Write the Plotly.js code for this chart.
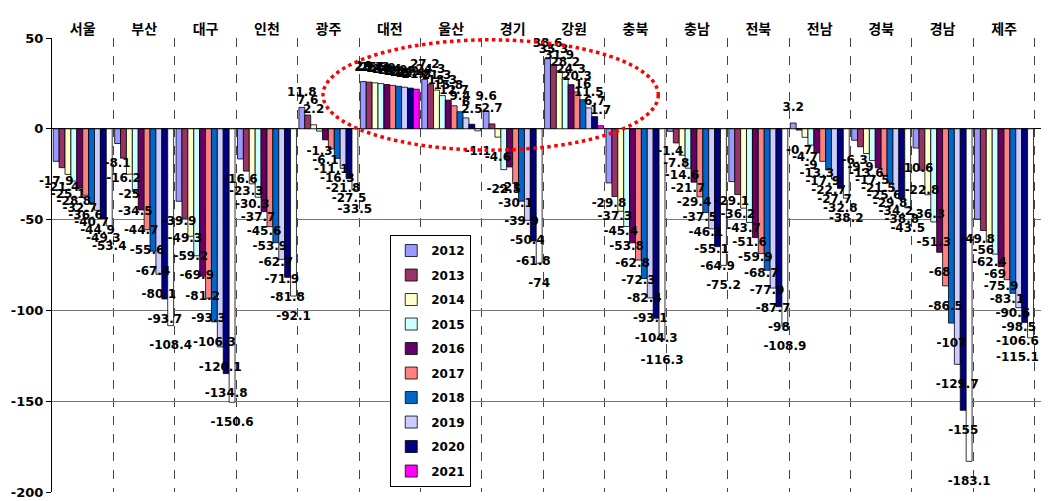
<!DOCTYPE html>
<html>
<head>
<meta charset="utf-8">
<script src="https://cdn.plot.ly/plotly-3.0.1.min.js"></script>
<style>html,body{margin:0;padding:0;background:#fff;}#chart{width:1050px;height:501px;}</style>
</head>
<body>
<div id="chart"></div>
<script>
const regions = ["서울","부산","대구","인천","광주","대전","울산","경기","강원","충북","충남","전북","전남","경북","경남","제주"];
const years = ["2012","2013","2014","2015","2016","2017","2018","2019","2020","2021"];
const colors = ["#9999FF","#993366","#FFFFCC","#CCFFFF","#660066","#FF8080","#0066CC","#CCCCFF","#000080","#FF00FF"];

// values per region, 2012..2021
const seoul    = [-17.9,-21.4,-25.1,-28.8,-32.7,-36.6,-40.7,-44.9,-49.3,-53.4];
const busan    = [-8.1,-16.2,-25,-34.5,-44.7,-55.6,-67.4,-80.1,-93.7,-108.4];
const daegu    = [-39.9,-49.3,-59.2,-69.9,-81.2,-93.3,-106.3,-120.1,-134.8,-150.6];
const incheon  = [-16.6,-23.3,-30.3,-37.7,-45.6,-53.9,-62.7,-71.9,-81.8,-92.1];
const gwangju  = [11.8,7.6,2.2,-1.3,-6.1,-11.1,-16.3,-21.8,-27.5,-33.5];
const daejeon  = [26.0,25.7,25.3,24.9,24.4,23.9,23.4,22.9,22.4,21.8];
const ulsan    = [27.2,24.3,21.3,18.3,15.8,12.7,9.4,6,2.5,-1.1];
const gyeonggi = [9.6,2.7,-4.6,-22.5,-21,-30.1,-39.9,-50.4,-61.8,-74];
const gangwon  = [38.6,35.3,31.9,28.2,24.3,20.3,16,11.5,6.7,1.7];
const chungbuk = [-29.8,-37.3,-45.4,-53.8,-62.8,-72.3,-82.4,-93.1,-104.3,-116.3];
const chungnam = [-1.4,-7.8,-14.6,-21.7,-29.4,-37.5,-46.1,-55.1,-64.9,-75.2];
const jeonbuk  = [-29.1,-36.2,-43.7,-51.6,-59.9,-68.7,-77.9,-87.7,-98,-108.9];
const jeonnam  = [3.2,-0.7,-4.7,-9,-13.3,-17.9,-22.7,-27.7,-32.8,-38.2];
const gyeongbuk= [-6.3,-9.9,-13.6,-17.5,-21.5,-25.6,-29.8,-34.2,-38.8,-43.5];
const gyeongnam= [-10.6,-22.8,-36.3,-51.3,-68,-86.5,-107,-129.7,-155,-183.1];
const jeju     = [-49.8,-56,-62.4,-69,-75.9,-83.1,-90.6,-98.5,-106.6,-115.1];

const yTickVals = [50,0,-50,-100,-150,-200];
const yTickText = ["50","0","-50","-100","-150","-200"];

const table = [seoul,busan,daegu,incheon,gwangju,daejeon,ulsan,gyeonggi,gangwon,chungbuk,chungnam,jeonbuk,jeonnam,gyeongbuk,gyeongnam,jeju];

// labels that the original pushes left to stay inside the chart (series index, region index)
const edgeLabels = [[8, 15], [9, 15]];
const isEdge = (s, r) => edgeLabels.some(e => e[0] === s && e[1] === r);

const labelFont = {family: "DejaVu Sans", size: 12, color: "#000", weight: "bold"};

const traces = [];
// bar traces
years.forEach((yr, i) => {
  const vals = table.map(r => r[i]);
  const last = (i === years.length - 1);
  // for the inverted-if-negative series, list positive points first so the legend swatch keeps the series colour
  let order = regions.map((_, k) => k);
  if (last) order = order.filter(k => vals[k] >= 0).concat(order.filter(k => vals[k] < 0));
  traces.push({
    type: "bar",
    name: yr,
    legendgroup: yr,
    x: order.map(k => regions[k]),
    y: order.map(k => vals[k]),
    marker: {
      color: last ? order.map(k => vals[k] < 0 ? "#FFFFFF" : colors[i]) : colors[i],
      line: {color: "#000", width: 0.8}
    },
    hoverinfo: "skip"
  });
});
// value labels: grouped scatter text on an overlaid axis so they sit above every bar
years.forEach((yr, i) => {
  const vals = table.map(r => r[i]);
  traces.push({
    type: "scatter",
    mode: "markers+text",
    orientation: "v",
    name: yr,
    showlegend: false,
    xaxis: "x2", yaxis: "y",
    x: regions,
    y: vals,
    text: vals.map((v, k) => isEdge(i, k) ? "" : String(v)),
    textposition: vals.map(v => v < 0 ? "bottom center" : "top center"),
    textfont: labelFont,
    cliponaxis: false,
    marker: {size: vals.map(v => v < 0 ? 22 : 12), color: "rgba(0,0,0,0)", line: {width: 0}},
    hoverinfo: "skip"
  });
});

const annotations = edgeLabels.map(([s, r]) => ({
  xref: "x", yref: "y", x: regions[r], y: table[r][s],
  text: String(table[r][s]), showarrow: false,
  xanchor: "right", yanchor: "middle", xshift: 37, yshift: -19,
  font: labelFont
}));

const layout = {
  width: 1050, height: 501,
  margin: {l: 52, r: 9, t: 38, b: 9},
  paper_bgcolor: "#fff", plot_bgcolor: "#fff",
  barmode: "group",
  bargap: 0.04,
  bargroupgap: 0,
  scattermode: "group",
  scattergap: 0.04,
  showlegend: true,
  legend: {
    x: 0.342, y: 0.566, xanchor: "left", yanchor: "top",
    bgcolor: "#fff", bordercolor: "#000", borderwidth: 1,
    font: {family: "DejaVu Sans", size: 12, color: "#000", weight: "bold"},
    tracegroupgap: 5.5,
    itemwidth: 30
  },
  xaxis: {
    type: "category",
    categoryorder: "array", categoryarray: regions,
    side: "top",
    tickson: "boundaries",
    showgrid: true, gridcolor: "#444", griddash: "dash", gridwidth: 1,
    ticks: "", showline: false,
    tickfont: {family: "Noto Sans CJK KR", size: 14, color: "#000", weight: "bold"},
    fixedrange: true
  },
  xaxis2: {
    type: "category",
    categoryorder: "array", categoryarray: regions,
    overlaying: "x", matches: "x",
    visible: false, showgrid: false,
    fixedrange: true
  },
  yaxis: {
    range: [-200, 50],
    tickvals: yTickVals, ticktext: yTickText,
    showgrid: true, gridcolor: "#777", gridwidth: 1,
    zeroline: true, zerolinecolor: "#000", zerolinewidth: 1,
    showline: true, linecolor: "#000", linewidth: 1,
    ticks: "outside", ticklen: 5, tickcolor: "#000",
    tickfont: {family: "DejaVu Sans", size: 13, color: "#000", weight: "bold"},
    fixedrange: true
  },
  annotations: annotations,
  shapes: [{
    type: "circle", xref: "paper", yref: "paper",
    x0: 0.274, x1: 0.613, y0: 0.753, y1: 0.996,
    line: {color: "#FF0000", width: 3.5, dash: "dot"}
  }]
};

Plotly.newPlot("chart", traces, layout, {displayModeBar: false, staticPlot: true});
</script>
</body>
</html>
